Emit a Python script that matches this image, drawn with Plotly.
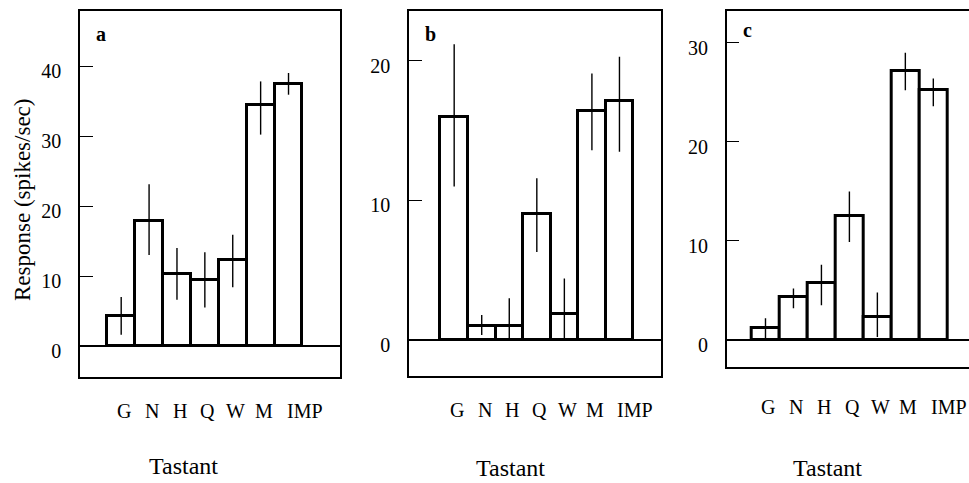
import plotly.graph_objects as go

tastants = ["G", "N", "H", "Q", "W", "M", "IMP"]

resp_a = [4.3, 17.9, 10.3, 9.5, 12.3, 34.4, 37.5]
err_a_plus = [2.7, 5.2, 3.7, 3.9, 3.6, 3.4, 1.5]
err_a_minus = [2.7, 4.9, 3.7, 4.0, 3.9, 4.2, 1.6]

resp_b = [16.0, 1.0, 1.0, 9.05, 1.86, 16.4, 17.1]
err_b_plus = [5.2, 0.8, 2.0, 2.55, 2.54, 2.7, 3.2]
err_b_minus = [5.0, 0.65, 0.9, 2.75, 1.76, 2.8, 3.6]

resp_c = [1.2, 4.3, 5.8, 12.5, 2.35, 27.1, 25.2]
err_c_plus = [1.0, 0.9, 1.8, 2.5, 2.45, 1.9, 1.2]
err_c_minus = [1.2, 1.1, 2.3, 2.6, 2.05, 1.9, 1.6]

yticks_a = [0, 10, 20, 30, 40]
yticks_b = [0, 10, 20]
yticks_c = [0, 10, 20, 30]

W, H = 969, 483
FONT = "Liberation Serif, Times New Roman, serif"

panels = [
    dict(name="a", y=resp_a, ep=err_a_plus, em=err_a_minus, yt=yticks_a,
         px=(80, 340), py=(11, 377), yr=(-4.43, 47.86), xr=(-1.477, 7.846),
         mirror=True, lab=(101, 34), title=(183, 466), standoff=21),
    dict(name="b", y=resp_b, ep=err_b_plus, em=err_b_minus, yt=yticks_b,
         px=(409, 660.5), py=(11, 376), yr=(-2.58, 23.58), xr=(-1.64, 7.49),
         mirror=True, lab=(430, 34), title=(510, 468), standoff=21),
    dict(name="c", y=resp_c, ep=err_c_plus, em=err_c_minus, yt=yticks_c,
         px=(726.7, 969), py=(11, 366.7), yr=(-2.69, 33.2), xr=(-1.387, 7.276),
         mirror=False, lab=(747, 30), title=(827, 468), standoff=27),
]

fig = go.Figure()
annotations = []
for i, p in enumerate(panels):
    sfx = "" if i == 0 else str(i + 1)
    fig.add_trace(go.Bar(
        x=tastants, y=p["y"], xaxis="x" + sfx, yaxis="y" + sfx,
        width=1.0,
        marker=dict(color="white", line=dict(color="black", width=3)),
        error_y=dict(type="data", array=p["ep"], arrayminus=p["em"],
                     color="black", thickness=1.4, width=0),
        showlegend=False, hoverinfo="skip",
    ))
    xdom = [p["px"][0] / W, min(p["px"][1] / W, 1.0)]
    ydom = [1 - p["py"][1] / H, 1 - p["py"][0] / H]
    fig.update_layout(**{
        "xaxis" + sfx: dict(
            domain=xdom, anchor="y" + sfx, type="category",
            range=list(p["xr"]), showticklabels=False,
            ticks="", showgrid=False, showline=True, mirror=True,
            linecolor="black", linewidth=1.5, zeroline=False, automargin=False,
        ),
        "yaxis" + sfx: dict(
            domain=ydom, anchor="x" + sfx, range=list(p["yr"]),
            tickvals=p["yt"], ticktext=[str(v) for v in p["yt"]],
            ticks="inside", ticklen=13, tickwidth=1.3, tickcolor="black",
            showgrid=False, showline=True, mirror=p["mirror"],
            linecolor="black", linewidth=1.5,
            zeroline=True, zerolinecolor="black", zerolinewidth=1.5,
            ticklabelstandoff=13, ticklabelshift=5, automargin=False,
            tickfont=dict(family=FONT, size=20, color="black"),
        ),
    })
    # category labels below each panel, placed by the category axis
    for t in tastants:
        annotations.append(dict(
            text=t, x=t, y=0, xref="x" + sfx, yref="y" + sfx + " domain",
            yanchor="top", xanchor="center", showarrow=False,
            yshift=-p["standoff"], xshift=(16 if t == "IMP" else 3),
            font=dict(family=FONT, size=20, color="black"),
        ))
    annotations.append(dict(
        text="<b>" + p["name"] + "</b>", x=p["lab"][0] / W, y=1 - p["lab"][1] / H,
        xref="paper", yref="paper", xanchor="center", yanchor="middle",
        showarrow=False, font=dict(family=FONT, size=20, color="black"),
    ))
    annotations.append(dict(
        text="Tastant", x=p["title"][0] / W, y=1 - p["title"][1] / H,
        xref="paper", yref="paper", xanchor="center", yanchor="middle",
        showarrow=False, font=dict(family=FONT, size=24, color="black"),
    ))

annotations.append(dict(
    text="Response (spikes/sec)", x=23 / W, y=1 - 200 / H,
    xref="paper", yref="paper", xanchor="center", yanchor="middle",
    showarrow=False, textangle=-90,
    font=dict(family=FONT, size=23, color="black"),
))

fig.update_layout(
    width=W, height=H, margin=dict(l=0, r=0, t=0, b=0, autoexpand=False),
    paper_bgcolor="white", plot_bgcolor="white",
    bargap=0, annotations=annotations,
)

fig.write_html(
    "out.html",
    config={"displayModeBar": False},
    post_script="document.body.style.margin='0';document.body.style.overflow='hidden';",
)
